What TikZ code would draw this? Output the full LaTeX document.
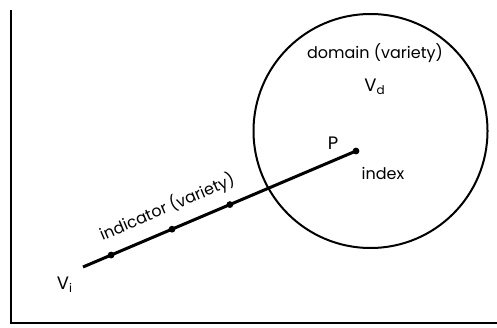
\documentclass[tikz,border=0pt]{standalone}
\usepackage{fontspec}
\setmainfont{Poppins}
\usetikzlibrary{positioning}
\tikzset{
  every picture/.style={line width=1pt},
  lbl/.style={font=\fontsize{8}{9}\selectfont, inner sep=1pt},
  big/.style={font=\fontsize{9}{10}\selectfont, inner sep=1pt},
  dot/.style={circle, fill=black, inner sep=0pt, minimum size=3.4pt},
}

\begin{document}
\begin{tikzpicture}[x=0.5pt, y=0.5pt]
  \useasboundingbox (0,0) rectangle (497,327);
  % frame
  \draw (11,317) -- (11,4) -- (497,4);
  % domain variety
  \node[circle, draw, minimum size=117pt, inner sep=0pt] (domain) at (370.5,196) {};
  \node[lbl] (dlabel) at (375,274) {domain (variety)};
  \node[big] (vd) at (375,240) {V\textsubscript{d}};
  % indicator variety
  \coordinate (vi) at (83,60);
  \coordinate (p) at (356,176);
  \draw[line width=1.5pt] (vi) -- (p)
    node[lbl, sloped, pos=0.34, above=4.5pt] (ilabel) {indicator (variety)};
  \foreach \t [count=\i] in {0.103, 0.326, 0.538, 1}
    \path (vi) -- (p) node[dot, pos=\t] (d\i) {};
  \node[big] (vilabel) at (65,42) {V\textsubscript{i}};
  \node[big] (plabel) at (333,184) {P};
  \node[lbl] (index) at (383,154) {index};
\end{tikzpicture}
\end{document}
